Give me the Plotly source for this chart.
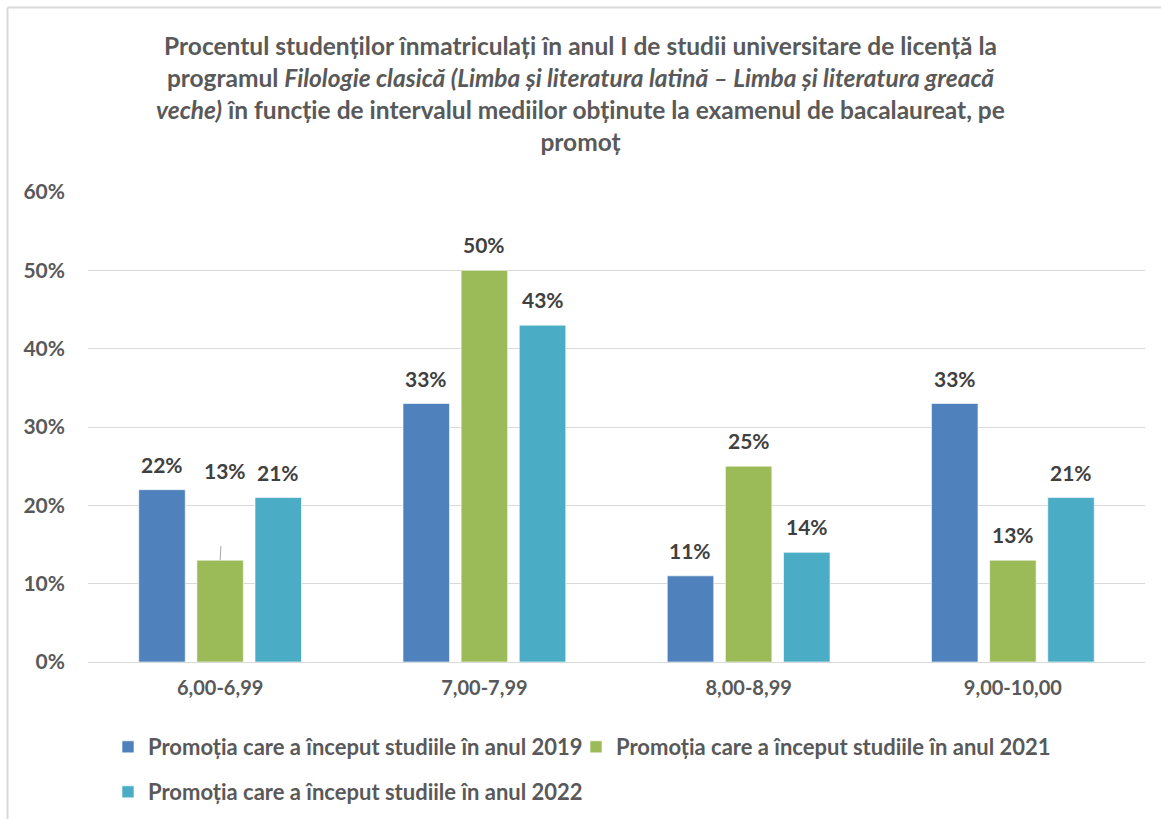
import plotly.graph_objects as go

categories = ["6,00-6,99", "7,00-7,99", "8,00-8,99", "9,00-10,00"]
series_names = [
    "Promoția care a început studiile în anul 2019",
    "Promoția care a început studiile în anul 2021",
    "Promoția care a început studiile în anul 2022",
]
values_2019 = [22, 33, 11, 33]
values_2021 = [13, 50, 25, 13]
values_2022 = [21, 43, 14, 21]
colors = ["#4F81BD", "#9BBB59", "#4BACC6"]

FONT = "Lato"
W, H = 1161, 819
ML, MR, MT, MB = 88, 16, 192, 157
BARGAP, GROUPGAP = 0.34, 0.2
label_font = dict(family=FONT, size=21, color="#404040", weight="bold")

plot_w = W - ML - MR
plot_h = H - MT - MB
cat_w = plot_w / len(categories)
slot_w = cat_w * (1 - BARGAP) / 3

fig = go.Figure()
all_vals = [values_2019, values_2021, values_2022]
legend_ids = ["legend", "legend2", "legend3"]
for k, (name, vals, col, lg) in enumerate(zip(series_names, all_vals, colors, legend_ids)):
    fig.add_trace(go.Bar(
        x=categories, y=vals, name=name, marker_color=col,
        marker_line=dict(color="rgba(255,255,255,0.6)", width=1),
        legend=lg,
    ))
    for i, (c, v) in enumerate(zip(categories, vals)):
        if k == 1 and i == 0:
            # label with leader line
            fig.add_annotation(
                x=c, y=v, text=f"{v}%",
                showarrow=True, arrowhead=0, arrowwidth=1, arrowcolor="#A6A6A6",
                ax=5, ay=-90, startstandoff=62, standoff=0,
                font=label_font,
            )
            continue
        fig.add_annotation(
            x=c, y=v, text=f"{v}%", showarrow=False,
            xshift=(k - 1) * slot_w, yanchor="bottom", yshift=11,
            font=label_font,
        )

title_text = (
    "Procentul studenților înmatriculați în anul I de studii universitare de licență la<br>"
    "programul <i>Filologie clasică (Limba și literatura latină – Limba și literatura greacă</i><br>"
    "<i>veche)</i> în funcție de intervalul mediilor obținute la examenul de bacalaureat, pe<br>"
    "promoț"
)

legend_font = dict(family=FONT, size=22, color="#595959", weight="bold")


def legend_box(px_x, px_y):
    return dict(
        orientation="h", x=(px_x - ML) / plot_w, xanchor="left",
        y=(MT + plot_h - px_y) / plot_h, yanchor="top",
        font=legend_font, bgcolor="rgba(0,0,0,0)",
    )


fig.update_layout(
    width=W, height=H,
    margin=dict(l=ML, r=MR, t=MT, b=MB, autoexpand=False),
    paper_bgcolor="white", plot_bgcolor="white",
    font=dict(family=FONT, color="#595959"),
    title=dict(
        text=title_text, x=0.5, xanchor="center", xref="container",
        y=1 - 55 / H, yanchor="top", yref="container",
        font=dict(family=FONT, size=24.5, color="#595959", weight="bold"),
    ),
    barmode="group", bargap=BARGAP, bargroupgap=GROUPGAP,
    showlegend=True,
    legend=legend_box(108, 726),
    legend2=legend_box(576, 726),
    legend3=legend_box(108, 771),
    xaxis=dict(
        showgrid=False, showline=True, linecolor="#D9D9D9", linewidth=1,
        tickfont=dict(family=FONT, size=20, color="#595959", weight="bold"),
        ticks="", ticklabelstandoff=8,
    ),
    yaxis=dict(
        range=[0, 60], dtick=10, ticksuffix="%",
        showgrid=True, gridcolor="#D9D9D9", gridwidth=1,
        zeroline=False, showline=False,
        tickfont=dict(family=FONT, size=21, color="#595959", weight="bold"),
        ticklabelstandoff=22,
    ),
)

# outer chart frame (top and left edges only)
frame = dict(color="#D9D9D9", width=2)
fx0 = (7.5 - ML) / plot_w
fy1 = (MT + plot_h - 7.5) / plot_h
fig.add_shape(type="line", xref="paper", yref="paper",
              x0=fx0, x1=(W - ML) / plot_w, y0=fy1, y1=fy1, line=frame)
fig.add_shape(type="line", xref="paper", yref="paper",
              x0=fx0, x1=fx0, y0=(MT + plot_h - H) / plot_h, y1=fy1, line=frame)

fig.write_html("out.html", config={"displayModeBar": False},
               post_script="document.body.style.margin='0';")
